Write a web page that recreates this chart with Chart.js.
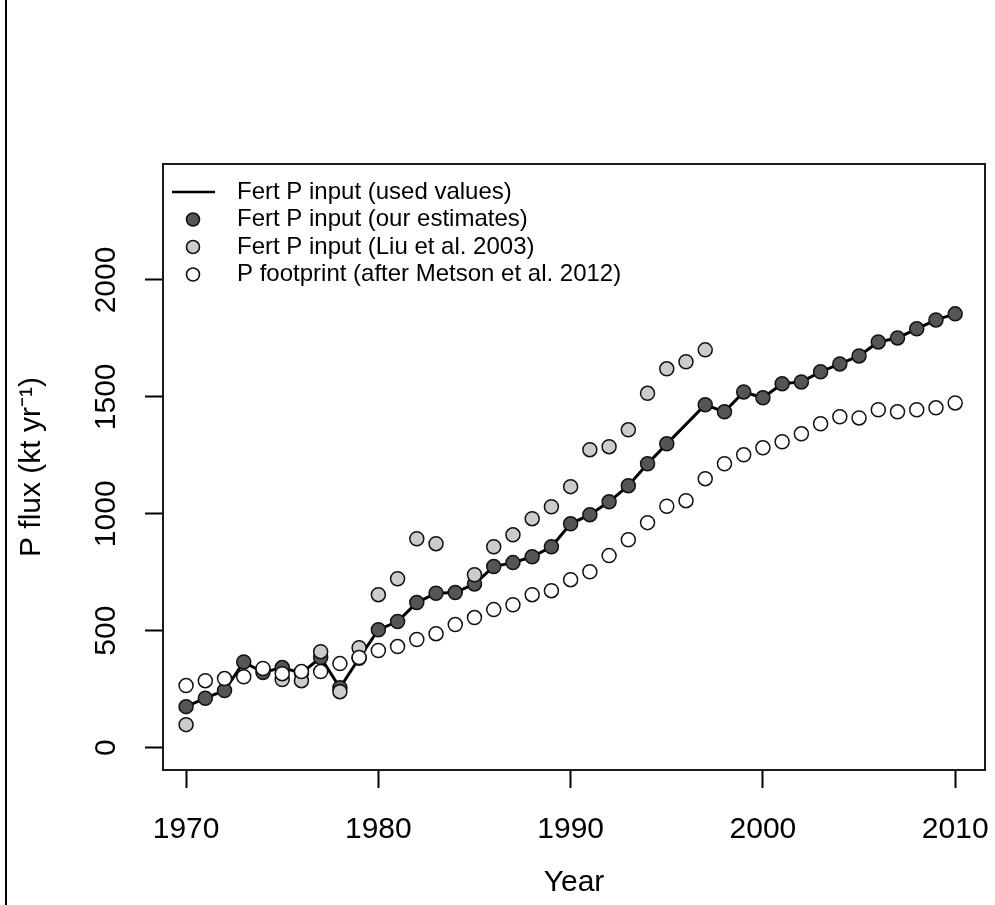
<!DOCTYPE html>
<html><head><meta charset="utf-8">
<script src="https://cdn.jsdelivr.net/npm/chart.js@4.4.1/dist/chart.umd.min.js"></script>
<style>html,body{margin:0;padding:0;background:#fff;}#wrap{width:995px;height:905px;}</style>
</head><body><div id="wrap"><canvas id="c" width="995" height="905"></canvas></div>
<script>
const years = [1970,1971,1972,1973,1974,1975,1976,1977,1978,1979,
  1980,1981,1982,1983,1984,1985,1986,1987,1988,1989,
  1990,1991,1992,1993,1994,1995,1996,1997,1998,1999,
  2000,2001,2002,2003,2004,2005,2006,2007,2008,2009,2010];
const ourEstimates = [175,211,244,366,321,342,318,385,256,382,
  504,539,620,660,663,700,774,791,816,859,
  957,996,1051,1120,1214,1299,null,1466,1436,1521,
  1496,1556,1564,1607,1641,1675,1735,1752,1791,1829,1855];
const liu2003 = [98,null,null,null,null,291,286,410,239,427,
  654,722,893,872,null,739,859,910,979,1030,
  1116,1274,1287,1359,1515,1620,1650,1701,null,null,
  null,null,null,null,null,null,null,null,null,null,null];
const metson2012 = [265,286,295,303,338,316,325,325,359,385,
  415,432,462,487,526,556,590,611,654,671,
  718,752,821,889,962,1032,1056,1150,1214,1252,
  1282,1308,1342,1385,1415,1410,1445,1436,1445,1453,1474];
const xTicks = [1970,1980,1990,2000,2010];
const yTicks = [0,500,1000,1500,2000];
const seriesLabels = ['Fert P input (used values)','Fert P input (our estimates)','Fert P input (Liu et al. 2003)','P footprint (after Metson et al. 2012)'];

const pts = arr => years.map((y,i)=>({x:y, y:arr[i]})).filter(p=>p.y!==null);
const FONT = '"Liberation Sans", Arial, sans-serif';
Chart.defaults.font.family = FONT;
Chart.defaults.color = '#000';

const framePlugin = {
  id:'frame',
  beforeDraw(chart){
    const ctx = chart.ctx;
    ctx.save(); ctx.strokeStyle='#000'; ctx.lineWidth=2;
    ctx.beginPath(); ctx.moveTo(6,0); ctx.lineTo(6,905); ctx.stroke(); ctx.restore();
  },
  afterDraw(chart){
    const {ctx, chartArea:ca} = chart;
    ctx.save();
    ctx.strokeStyle='#1a1a1a'; ctx.lineWidth=2;
    ctx.strokeRect(ca.left, ca.top, ca.right-ca.left, ca.bottom-ca.top);
    const ds = chart.data.datasets;
    ctx.font = '24px ' + FONT;
    ctx.textBaseline = 'middle'; ctx.textAlign='left'; ctx.fillStyle='#000';
    ds.forEach((d,i)=>{
      const y = ca.top + 28 + i*27.5;
      if (d.showLine && d.pointRadius===0){
        ctx.strokeStyle = d.borderColor; ctx.lineWidth = 2.3;
        ctx.beginPath(); ctx.moveTo(ca.left+9,y); ctx.lineTo(ca.left+52,y); ctx.stroke();
      } else {
        ctx.beginPath(); ctx.arc(ca.left+30,y,6.5,0,Math.PI*2);
        ctx.fillStyle = d.backgroundColor; ctx.fill();
        ctx.strokeStyle = d.borderColor; ctx.lineWidth = 1.6; ctx.stroke();
      }
      ctx.fillStyle='#000';
      ctx.fillText(d.label, ca.left+74, y);
    });
    ctx.restore();
  }
};

new Chart(document.getElementById('c'), {
  type:'scatter',
  data:{datasets:[
    {label:seriesLabels[0], data:pts(ourEstimates), showLine:true, spanGaps:true, borderColor:'#000', borderWidth:3, pointRadius:0, order:3},
    {label:seriesLabels[1], data:pts(ourEstimates), showLine:false, backgroundColor:'#555555', borderColor:'#111', borderWidth:1.5, pointRadius:7, order:2},
    {label:seriesLabels[2], data:pts(liu2003), showLine:false, backgroundColor:'#cccccc', borderColor:'#111', borderWidth:1.5, pointRadius:7, order:1},
    {label:seriesLabels[3], data:pts(metson2012), showLine:false, backgroundColor:'#ffffff', borderColor:'#111', borderWidth:1.5, pointRadius:7, order:0}
  ]},
  options:{
    responsive:false, animation:false, devicePixelRatio:1,
    layout:{padding:{left:0,right:10,top:164,bottom:0}},
    plugins:{legend:{display:false}, tooltip:{enabled:false}},
    scales:{
      x:{type:'linear', min:1968.8, max:2011.55,
        afterBuildTicks:s=>{s.ticks = xTicks.map(v=>({value:v}));},
        afterFit:s=>{s.height=135; s.paddingLeft=0; s.paddingRight=0;},
        ticks:{font:{size:30}, color:'#000', padding:24, maxRotation:0, autoSkip:false, callback:v=>String(v)},
        grid:{drawOnChartArea:false, drawTicks:true, tickLength:18, tickWidth:2, tickColor:'#000'},
        border:{display:false},
        title:{display:true, text:'Year', font:{size:30}, color:'#000', padding:{top:0,bottom:4}}
      },
      y:{type:'linear', min:-96, max:2496,
        afterBuildTicks:s=>{s.ticks = yTicks.map(v=>({value:v}));},
        afterFit:s=>{s.width=163; s.paddingTop=0; s.paddingBottom=0;},
        ticks:{font:{size:30}, color:'#000', padding:5, minRotation:90, maxRotation:90, crossAlign:'center', autoSkip:false, callback:v=>String(v)},
        grid:{drawOnChartArea:false, drawTicks:true, tickLength:18, tickWidth:2, tickColor:'#000'},
        border:{display:false},
        title:{display:true, text:'P flux (kt yr\u207B\u00B9)', font:{size:30}, color:'#000', padding:{top:14,bottom:0}}
      }
    }
  },
  plugins:[framePlugin]
});
</script></body></html>
